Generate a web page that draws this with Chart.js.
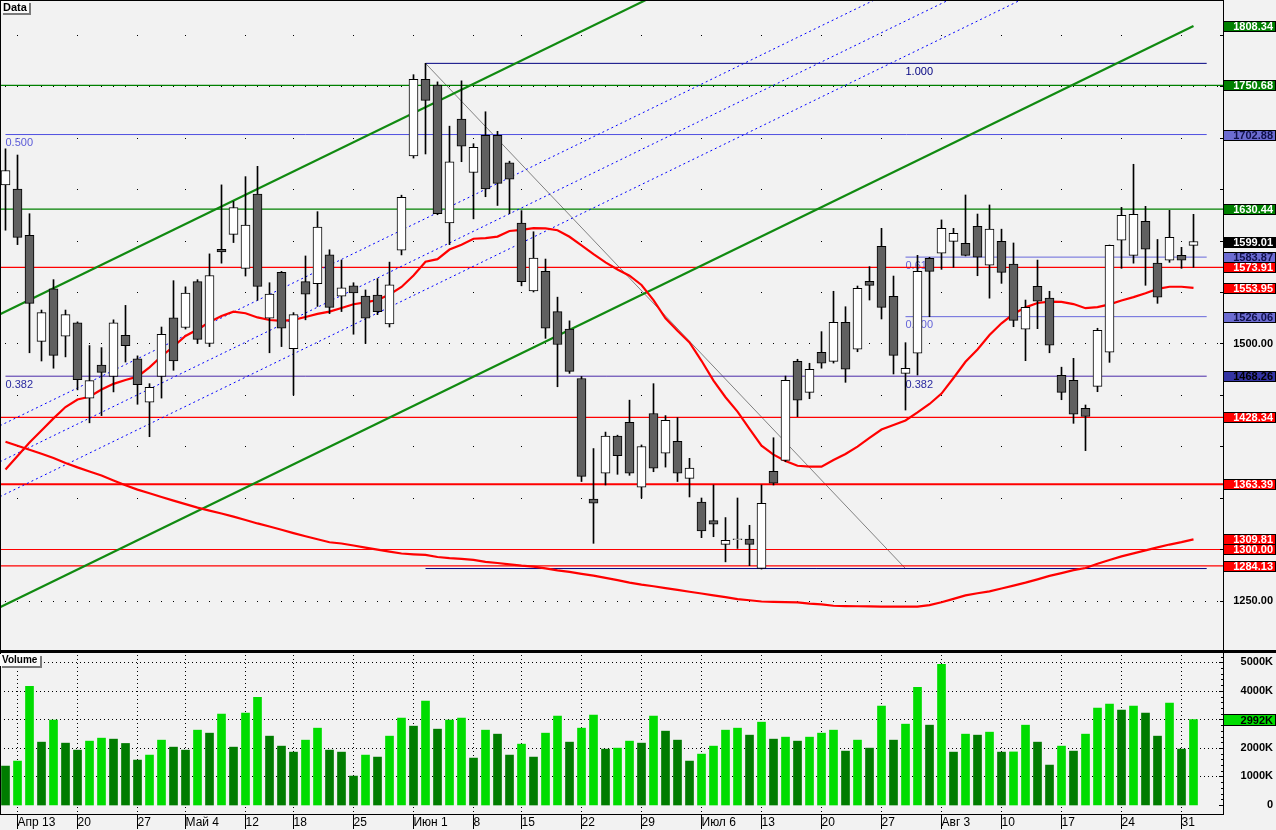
<!DOCTYPE html>
<html>
<head>
<meta charset="utf-8">
<script src="https://cdn.jsdelivr.net/npm/chart.js@4.4.1/dist/chart.umd.min.js"></script>
<style>
  html, body { margin: 0; padding: 0; background: #f2f2f2; }
  #wrap { position: relative; width: 1276px; height: 830px; overflow: hidden; background: #f2f2f2; }
  #priceBox { position: absolute; left: 0; top: 0; width: 1276px; height: 651px; }
  #volBox { position: absolute; left: 0; top: 651px; width: 1276px; height: 179px; }
</style>
</head>
<body>
<div id="wrap">
  <div id="priceBox"><canvas id="price"></canvas></div>
  <div id="volBox"><canvas id="vol"></canvas></div>
</div>
<script>
// week ticks on the time axis (index of the first trading day of each week)
const weekIdx = [1, 6, 11, 15, 20, 24, 29, 34, 39, 43, 48, 53, 58, 63, 68, 73, 78, 83, 88, 93, 98];
const weekLabels = ['Апр 13', '20', '27', 'Май 4', '12', '18', '25', 'Июн 1', '8', '15', '22', '29',
                    'Июл 6', '13', '20', '27', 'Авг 3', '10', '17', '24', '31'];

// daily candles
const open = [1654,1650,1605,1502,1553,1507,1520,1447,1479,1468, 1508,1485,1443,1468,1525,1515.5,1560,1500,1591.5,1606,
  1573,1645,1524.5,1569,1495,1560,1558,1586,1546,1556, 1546,1547,1519,1590.5,1682,1756.5,1751,1617,1718,1666,
  1702,1702,1675.5,1617,1551,1570,1531,1514,1466,1349, 1374,1410,1423.5,1360.5,1432,1393.5,1405,1369,1346,1328,
  1305,1309.6,1310,1281.7,1376,1386.6,1482.7,1452.6,1491.5,1482.7, 1520.6,1494.4,1560.4,1594.4,1545.8,1471,1490.5,1582.7,1587.6,1599.2,
  1597.3,1613.8,1576,1599.2,1577,1513.8,1555.5,1544,1469,1464.3, 1437,1458.3,1491.5,1600.2,1585.6,1618.6,1578,1580.8,1585.6,1595.3];
const high = [1689,1683,1626,1532.5,1562,1532.5,1521,1498,1496,1523, 1537,1488,1461,1516,1561,1555,1562,1587,1654,1638,
  1662,1672,1559,1570,1530,1585,1628,1591,1581,1559, 1552,1563,1579,1644,1761,1772,1754,1711,1755,1694,
  1725,1706,1677,1629,1608.5,1582,1545,1522,1468,1398, 1414,1411,1445,1401.5,1461,1430,1428,1388.5,1350,1362.6,
  1331,1350,1323.5,1362.6,1408.5,1468.4,1484.7,1480.8,1511.5,1550.7, 1535.7,1555.8,1574.6,1611.8,1565.5,1500.8,1585.6,1583.7,1620,1611.8,
  1644.2,1625.7,1634.5,1611,1597.6,1542.2,1581,1550.7,1477,1485.6, 1440.3,1514.8,1595.6,1632.2,1674,1633.2,1601,1629.3,1593.4,1625.4];
const low = [1610,1596,1491,1483,1476,1487,1455,1423,1430,1453, 1482,1441,1409.5,1447,1474,1514,1500,1497,1578,1598,
  1565.5,1542,1491,1497,1450,1523,1536,1529,1531,1509, 1500,1528,1516,1586,1680,1684,1625,1596,1676.5,1621,
  1642.5,1634,1626,1556,1550,1505,1458,1471,1366,1306, 1362.6,1373,1372,1350,1375.5,1380,1366,1351,1311.5,1312.4,
  1288,1301,1284.3,1281,1362.6,1385.2,1429,1446.4,1476,1481, 1462.3,1492,1542.2,1523.8,1470.4,1435.4,1469.4,1526,1572,1574,
  1585,1565.8,1544,1558.4,1516.3,1483.3,1514.4,1491,1445.4,1422.5, 1396,1453.2,1481.7,1573,1578,1556.5,1539,1578.8,1573,1574];
const close = [1668,1603,1539,1530,1488.5,1528,1465,1464,1472,1520, 1498,1460,1457.5,1509,1483,1549,1504,1566,1589,1632,
  1615,1555.5,1548,1515,1528,1548,1613,1535,1554,1549, 1524.5,1531,1557,1642,1756.5,1736,1626,1676.5,1691.5,1690.5,
  1650,1655.5,1659.5,1560,1583,1515,1499,1473,1371,1345, 1410,1391,1374,1400,1379,1425.5,1374,1379,1318,1324.5,
  1309,1310.4,1305,1344.8,1364.3,1464.3,1445,1475,1481,1520.6, 1475,1553.6,1556.5,1535,1488.5,1476,1570,1570,1611.8,1607,
  1585.6,1583.7,1611,1569,1522.5,1535,1541,1498.3,1452.6,1431.3, 1429.3,1512.8,1595.3,1624.5,1625.4,1591.5,1545,1603,1580.8,1599.01];

// volume, thousands
const volume = [1364,1539,4161,2203,2972,2168,1923,2238,2343,2308, 2157,1574,1749,2273,2028,1923,2623,2518,3182,2028,
  3217,3777,2413,2063,1853,2273,2693,1923,1853,1014, 1749,1679,2413,3042,2763,3637,2658,2972,3042,1644,
  2623,2483,1749,2133,1679,2518,3112,2203,2693,3147, 1958,1993,2238,2168,3112,2588,2273,1539,1783,2063,
  2623,2693,2448,2903,2308,2378,2238,2378,2518,2623, 1888,2273,1993,3462,2273,2833,4126,2798,4931,1853,
  2483,2448,2553,1853,1860,2798,2203,1399,2063,1888, 2483,3392,3532,3322,3462,3217,2413,3567,1958,2992];

// moving averages
const maFast = [1377.7,1390.8,1403.9,1415.6,1427.3,1438.3,1445.6,1448.3,1455.4,1460.8, 1464.6,1467.8,1476.8,1487.6,1497.1,1507.3,1513.5,1520.9,1526.7,1530.9,
  1529.4,1525.3,1522.8,1521.9,1523,1525.7,1528.8,1530.9,1534.5,1538.1, 1539.9,1542.2,1547.6,1554.9,1566,1579.4,1581.9,1591.2,1595.9,1601.7,
  1602.3,1603.8,1609.2,1610.4,1612.1,1611.8,1610,1603.6,1595.2,1586.7, 1578.7,1571.9,1565.8,1556.8,1542.2,1524.5,1512.3,1501.1,1483.2,1463.9,
  1447.8,1433.9,1417.2,1400.8,1392.1,1385.9,1381.3,1380.4,1380.4,1386.9, 1392.7,1399.8,1408.3,1416.5,1420.9,1425.3,1433.1,1441.3,1451.4,1466.5,
  1482.3,1494.2,1508.3,1519.6,1528.7,1535.1,1539.3,1540.6,1540.4,1538.3, 1534.3,1535.3,1538,1541.7,1545,1548.8,1553,1555.1,1555.1,1553.95];
const maSlow = [1404.6,1400.7,1396.8,1392.9,1388.8,1383.9,1379.7,1375.8,1371.8,1367, 1362.3,1358.1,1354.6,1350.9,1347.4,1344,1340.7,1337.8,1334.9,1331.9,
  1328.6,1325.3,1322.3,1319.2,1315.9,1312.8,1309.9,1307,1305.8,1303.9, 1301.8,1299.9,1297.9,1296.1,1295.3,1294.7,1292.7,1291.6,1290.8,1289.9,
  1288,1286.9,1285.6,1284.3,1283.3,1281.7,1279.8,1278.2,1276.3,1274.6, 1272.5,1270.2,1267.9,1265.9,1264.3,1262.5,1260.8,1259,1257.3,1255.5,
  1253.8,1251.9,1250.7,1249.5,1249.1,1248.9,1248.7,1247.5,1246.7,1245.4, 1245.1,1244.9,1244.8,1244.6,1244.5,1244.5,1244.5,1246,1248.8,1252,
  1255.4,1257.5,1259.4,1262.1,1264.9,1267.8,1271,1274.4,1277.1,1279.9, 1282,1286.2,1289.8,1293.3,1296.2,1299.1,1302,1304.8,1307.1,1309.81];

// axis ticks
const priceTicks = [1250, 1500, 1750];
const volTicks = [0, 1000, 2000, 3000, 4000, 5000];

// horizontal levels
const greenLevels = [1750.68, 1630.44];
const redLevels = [1573.91, 1428.34, 1363.39, 1300.00, 1284.13];
const redWidths = [1.2, 1.2, 2, 1.2, 1.2];

// fibonacci drawing: top/bottom anchors and levels
const fibTop = 1772, fibBottom = 1281.5;
const fibRight = [1583.87, 1526.06, 1468.26];
const fibRightNames = ['0.618', '0.500', '0.382'];
const fibLeft = [1702.88, 1468.26];
const fibLeftNames = ['0.500', '0.382'];

// trend channel lines [index0, price0, index1, price1]
const greenChannel = [[-0.46, 1528.3, 53.4, 1833.7], [-0.46, 1244.0, 99, 1808.34]];
const blueChannel = [[-0.46, 1420.2, 72.4, 1833.5], [-0.46, 1385.2, 78.6, 1833.5], [-0.46, 1351.3, 84.6, 1833.5]];

// labels on the price axis
const markValues = [1808.34, 1750.68, 1702.88, 1630.44, 1599.01, 1583.87, 1573.91, 1553.95, 1526.06, 1468.26, 1428.34, 1363.39, 1309.81, 1300.00, 1284.13];
const markKinds = ['green', 'green', 'fib', 'green', 'last', 'fib', 'red', 'red', 'fib', 'fibDark', 'red', 'red', 'red', 'red', 'red'];

const markStyle = {
  green: { bg: '#008000', fg: '#ffffff' },
  fib: { bg: '#6c6cd2', fg: '#10104a' },
  fibDark: { bg: '#3434a4', fg: '#000000' },
  last: { bg: '#000000', fg: '#ffffff' },
  red: { bg: '#ff0000', fg: '#ffffff' }
};

const xMin = -0.4583, xMax = 101.4583, fibEnd = 100.1;
const FONT = '"Liberation Sans", Arial, sans-serif';

const seg = (a) => [{ x: a[0], y: a[1] }, { x: a[2], y: a[3] }];
const flat = (v, i0, i1) => [{ x: i0, y: v }, { x: i1, y: v }];
function line(points, color, width, dash) {
  return {
    type: 'line', data: points, borderColor: color, borderWidth: width,
    borderDash: dash || [], pointRadius: 0, pointHoverRadius: 0, pointHitRadius: 0,
    fill: false, tension: 0, order: 2
  };
}

// scales keep no extra padding, so the plot fills its box
const noPad = s => { s.paddingTop = 0; s.paddingBottom = 0; s.paddingLeft = 0; s.paddingRight = 0; };

function badge(ctx, text, x, y, w, h, font) {
  ctx.fillStyle = '#7a7a7a';
  ctx.fillRect(x + 2, y + 2, w, h);
  ctx.fillStyle = '#fafafa';
  ctx.fillRect(x, y, w, h);
  ctx.fillStyle = '#000';
  ctx.font = font;
  ctx.textAlign = 'left';
  ctx.textBaseline = 'top';
  ctx.fillText(text, x + 2, y + 1);
}

function markBox(chart, value, text, st) {
  const { ctx, chartArea: a, scales: { y } } = chart;
  const py = Math.round(y.getPixelForValue(value));
  const w = chart.width - a.right;
  ctx.fillStyle = st.bg;
  ctx.fillRect(a.right, py - 5, w, 11);
  ctx.strokeStyle = '#000';
  ctx.lineWidth = 1;
  ctx.strokeRect(a.right + 0.5, py - 4.5, w - 1, 10);
  ctx.fillStyle = st.fg;
  ctx.font = 'bold 11px ' + FONT;
  ctx.textAlign = 'right';
  ctx.textBaseline = 'middle';
  ctx.fillText(text, chart.width - 3, py + 1);
}

const priceDecor = {
  id: 'priceDecor',
  beforeDatasetsDraw(chart) {
    const { ctx, scales: { x, y } } = chart;
    ctx.save();
    ctx.fillStyle = '#000';
    for (let v = 1250; v <= 1800; v += 50) {
      const py = Math.round(y.getPixelForValue(v));
      if (priceTicks.includes(v)) {
        for (let i = 0; i <= 101; i++) ctx.fillRect(Math.floor(x.getPixelForValue(i)), py, 1, 1);
      } else {
        weekIdx.forEach(i => ctx.fillRect(Math.floor(x.getPixelForValue(i)), py, 1, 1));
      }
    }
    ctx.font = '11px ' + FONT;
    ctx.textAlign = 'left';
    ctx.textBaseline = 'top';
    ctx.fillStyle = '#000080';
    ctx.fillText('1.000', x.getPixelForValue(75), y.getPixelForValue(fibTop) + 3);
    fibRight.forEach((v, k) => {
      ctx.fillStyle = k === 2 ? '#2a2aa0' : '#6464d8';
      ctx.fillText(fibRightNames[k], x.getPixelForValue(75), y.getPixelForValue(v) + 3);
    });
    fibLeft.forEach((v, k) => {
      ctx.fillStyle = k === 1 ? '#2a2aa0' : '#5a5ad8';
      ctx.fillText(fibLeftNames[k], x.getPixelForValue(0), y.getPixelForValue(v) + 3);
    });
    ctx.restore();
  },
  afterDraw(chart) {
    const { ctx, chartArea: a, scales: { y } } = chart;
    ctx.save();
    ctx.fillStyle = '#000';
    ctx.fillRect(0, 0, a.right, 1);
    ctx.fillRect(0, 0, 1, a.bottom);
    ctx.fillRect(0, a.bottom - 1, chart.width, 1);
    for (let v = 1250; v <= 1800; v += 50) {
      ctx.fillRect(a.right - 3, Math.round(y.getPixelForValue(v)), 3, 1);
    }
    markValues.forEach((v, k) => markBox(chart, v, v.toFixed(2), markStyle[markKinds[k]]));
    badge(ctx, 'Data', 1, 1, 28, 12, 'bold 11px ' + FONT);
    ctx.restore();
  }
};

const volDecor = {
  id: 'volDecor',
  beforeDatasetsDraw(chart) {
    const { ctx, chartArea: a, scales: { x, y } } = chart;
    ctx.save();
    ctx.strokeStyle = '#000';
    ctx.lineWidth = 1;
    ctx.setLineDash([1, 3]);
    volTicks.slice(1).forEach(v => {
      const py = Math.round(y.getPixelForValue(v)) + 0.5;
      ctx.beginPath(); ctx.moveTo(a.left, py); ctx.lineTo(a.right, py); ctx.stroke();
    });
    weekIdx.forEach(i => {
      const px = Math.floor(x.getPixelForValue(i)) + 0.5;
      ctx.beginPath(); ctx.moveTo(px, a.top); ctx.lineTo(px, a.bottom); ctx.stroke();
    });
    ctx.restore();
  },
  afterDraw(chart) {
    const { ctx, chartArea: a, scales: { y } } = chart;
    ctx.save();
    ctx.fillStyle = '#000';
    ctx.fillRect(0, 0, chart.width, 2);
    ctx.fillRect(0, 0, 1, a.bottom);
    for (let v = 0; v <= 5200; v += 200) {
      const len = v % 1000 === 0 ? 4 : 2;
      ctx.fillRect(a.right - len, Math.round(y.getPixelForValue(v)), len, 1);
    }
    const last = volume[volume.length - 1];
    const py = Math.round(y.getPixelForValue(last));
    ctx.fillStyle = '#00dc00';
    ctx.fillRect(a.right, py - 6, chart.width - a.right, 12);
    ctx.strokeStyle = '#000';
    ctx.strokeRect(a.right + 0.5, py - 5.5, chart.width - a.right - 1, 11);
    ctx.fillStyle = '#000';
    ctx.font = 'bold 11px ' + FONT;
    ctx.textAlign = 'right';
    ctx.textBaseline = 'middle';
    ctx.fillText(last + 'K', chart.width - 3, py + 1);
    badge(ctx, 'Volume', 0, 3, 40, 12, 'bold 10px ' + FONT);
    ctx.restore();
  }
};

const common = {
  animation: false,
  responsive: true,
  maintainAspectRatio: false,
  devicePixelRatio: 1,
  events: [],
  layout: { padding: { left: 0, top: 0, bottom: 0, right: 3 }, autoPadding: false },
  plugins: { legend: { display: false }, tooltip: { enabled: false } }
};

new Chart(document.getElementById('price'), {
  type: 'bar',
  data: {
    datasets: [
      {
        data: open.map((o, i) => ({ x: i, y: [o, close[i]] })),
        backgroundColor: ctx => close[ctx.dataIndex] >= open[ctx.dataIndex] ? '#ffffff' : '#606060',
        borderColor: '#000', borderWidth: 1, borderSkipped: false,
        barThickness: 9, grouped: false, order: 0
      },
      {
        data: low.map((l, i) => ({ x: i, y: [l, high[i]] })),
        backgroundColor: '#000', borderWidth: 0, barThickness: 1, grouped: false, order: 1
      },
      line(maFast.map((v, i) => ({ x: i, y: v })), '#ff0000', 2.2),
      line(maSlow.map((v, i) => ({ x: i, y: v })), '#ff0000', 2.2),
      ...greenChannel.map(s => line(seg(s), '#118a11', 2.2)),
      ...blueChannel.map(s => line(seg(s), '#0000ff', 1, [2, 3])),
      ...greenLevels.map(v => line(flat(v, xMin, xMax), '#008000', 1.2)),
      ...redLevels.map((v, k) => line(flat(v, xMin, xMax), '#ff0000', redWidths[k])),
      line(flat(fibTop, 35, fibEnd), '#000080', 1),
      line(flat(fibBottom, 35, fibEnd), '#000080', 1),
      line(flat(fibLeft[0], 0, fibEnd), '#5050e0', 1),
      line(flat(fibRight[0], 75, fibEnd), '#6868dc', 1),
      line(flat(fibRight[1], 75, fibEnd), '#6868dc', 1),
      line(flat(fibRight[2], 0, fibEnd), '#4a2aa8', 1),
      line(seg([35, fibTop, 75, fibBottom]), '#808080', 1)
    ]
  },
  options: Object.assign({}, common, {
    scales: {
      x: { type: 'linear', min: xMin, max: xMax, offset: false, display: false },
      y: {
        position: 'right', min: 1201.45, max: 1833.5,
        afterBuildTicks: s => { s.ticks = priceTicks.map(v => ({ value: v })); },
        afterFit: s => { s.width = 50; noPad(s); },
        grid: { display: false, drawTicks: false },
        border: { display: true, color: '#000', width: 1 },
        ticks: {
          crossAlign: 'far', padding: 6, color: '#000',
          font: { family: FONT, size: 11, weight: 'bold' },
          callback: v => v.toFixed(2)
        }
      }
    }
  }),
  plugins: [priceDecor]
});

new Chart(document.getElementById('vol'), {
  type: 'bar',
  data: {
    datasets: [{
      data: volume.map((v, i) => ({ x: i, y: v })),
      backgroundColor: ctx => ctx.dataIndex > 0 && volume[ctx.dataIndex] > volume[ctx.dataIndex - 1] ? '#00dc00' : '#007c00',
      borderWidth: 0, barThickness: 8, grouped: false
    }]
  },
  options: Object.assign({}, common, {
    scales: {
      x: {
        type: 'linear', min: xMin, max: xMax, offset: false,
        afterBuildTicks: s => { s.ticks = weekIdx.map(v => ({ value: v })); },
        afterFit: s => { s.height = 16; noPad(s); },
        grid: { display: true, offset: false, drawOnChartArea: false, drawTicks: true, tickLength: 15, tickColor: '#000', tickWidth: 1 },
        border: { display: true, color: '#000', width: 1 },
        ticks: {
          autoSkip: false, maxRotation: 0, minRotation: 0, align: 'start', padding: -14, color: '#000',
          font: { family: FONT, size: 12 },
          callback: (v, i) => weekLabels[i]
        }
      },
      y: {
        position: 'right', min: -315, max: 5396,
        afterBuildTicks: s => { s.ticks = volTicks.map(v => ({ value: v })); },
        afterFit: s => { s.width = 50; noPad(s); },
        grid: { display: false, drawTicks: false },
        border: { display: true, color: '#000', width: 1 },
        ticks: {
          crossAlign: 'far', padding: 12, color: '#000',
          font: { family: FONT, size: 11, weight: 'bold' },
          callback: v => v === 0 ? '0' : v + 'K'
        }
      }
    }
  }),
  plugins: [volDecor]
});
</script>
</body>
</html>
